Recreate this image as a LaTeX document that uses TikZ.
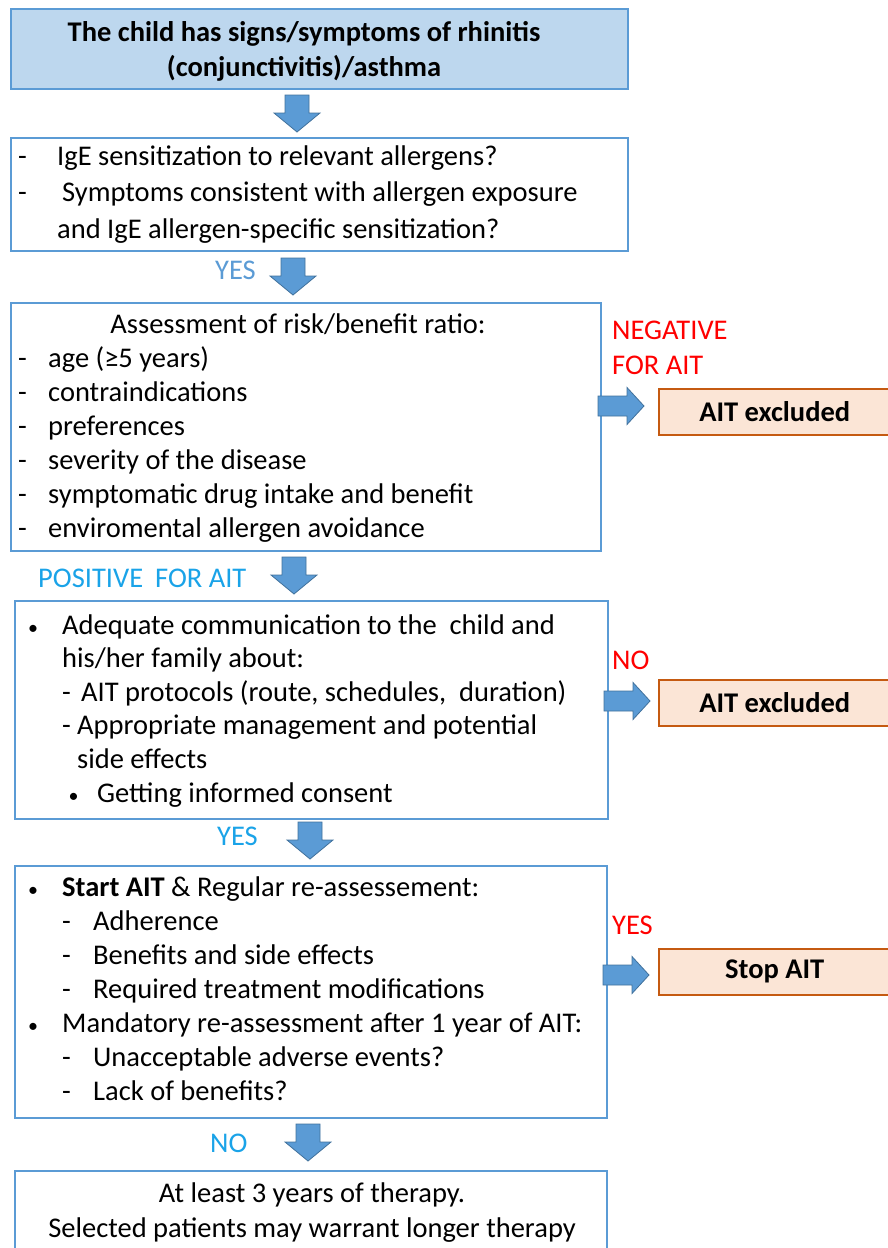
\documentclass[tikz,border=0pt]{standalone}
\usepackage{fontspec}
\setmainfont{Carlito}
\usetikzlibrary{positioning}
\definecolor{boxblue}{HTML}{5B9BD5}
\definecolor{titlefill}{HTML}{BDD7EE}
\definecolor{arrowline}{HTML}{41719C}
\definecolor{stopfill}{HTML}{FBE5D6}
\definecolor{stopline}{HTML}{C55A11}
\definecolor{lblblue}{HTML}{1AA3E8}
\definecolor{lblred}{HTML}{FF0000}
\newcommand{\smallbul}{{\fontsize{20}{20}\selectfont\textbullet}}
\tikzset{
  mainbox/.style={draw=boxblue,line width=1.5pt,inner sep=0pt,anchor=north west},
  titlebox/.style={mainbox,fill=titlefill,line width=2pt},
  stopbox/.style={draw=stopline,fill=stopfill,line width=1.5pt,anchor=north west,
    minimum width=232pt,minimum height=46pt,font=\fontsize{28.5}{34}\selectfont\bfseries},
  lines/.style={inner sep=0pt,anchor=base west},
  bluelbl/.style={inner sep=0pt,text=lblblue,anchor=base west},
  redlbl/.style={inner sep=0pt,text=lblred,anchor=base west},
  pics/blockdown/.style={code={
    \filldraw[fill=boxblue,draw=arrowline,line width=0.8pt]
      (-12,0) -- (12,0) -- (12,18) -- (23,18) -- (0,37) -- (-23,18) -- (-12,18) -- cycle;}},
  pics/blockright/.style={code={
    \filldraw[fill=boxblue,draw=arrowline,line width=0.8pt]
      (0,-10) -- (29,-10) -- (29,-18.5) -- (46,0) -- (29,18.5) -- (29,10) -- (0,10) -- cycle;}},
}
\begin{document}
\begin{tikzpicture}[x=1pt,y=-1pt,font=\fontsize{28.5}{34}\selectfont]
  \useasboundingbox (0,0) rectangle (888,1248);
  \clip (0,0) rectangle (888,1248);
  % boxes
  \node[titlebox,minimum width=617pt,minimum height=80pt] (b1) at (10,8) {};
  \node[mainbox,minimum width=617pt,minimum height=113pt] (b2) at (10,137) {};
  \node[mainbox,minimum width=590pt,minimum height=248pt] (b3) at (10,302) {};
  \node[mainbox,minimum width=593pt,minimum height=218pt] (b4) at (14,600) {};
  \node[mainbox,minimum width=592pt,minimum height=252pt] (b5) at (14,865) {};
  \node[mainbox,minimum width=592pt,minimum height=90pt] (b6) at (14,1170) {};
  \node[stopbox] (ex1) at (658,388) {AIT excluded};
  \node[stopbox] (ex2) at (658,679) {AIT excluded};
  \node[stopbox] (ex3) at (658,948) {Stop AIT};
  % texts
  \node[inner sep=0pt,align=center,font=\fontsize{28.5}{35}\selectfont\bfseries] (t1) at (304,51)
    {The child has signs/symptoms of rhinitis\\(conjunctivitis)/asthma};
  \node[lines,font=\fontsize{28.5}{36.5}\selectfont] (t2) at (18,165) {\begin{tabular}[t]{@{}p{39pt}@{}l@{}}
    - & IgE sensitization to relevant allergens?\\
    - & \hspace{5pt}Symptoms consistent with allergen exposure\\
      & and IgE allergen-specific sensitization?
  \end{tabular}};
  \node[inner sep=0pt,anchor=base] (t3h) at (298,333) {Assessment of risk/benefit ratio:};
  \node[lines] (t3) at (18,367) {\begin{tabular}[t]{@{}p{30pt}@{}l@{}}
    - & age (≥5 years)\\
    - & contraindications\\
    - & preferences\\
    - & severity of the disease\\
    - & symptomatic drug intake and benefit\\
    - & enviromental allergen avoidance
  \end{tabular}};
  \node[lines,font=\fontsize{28.5}{33.6}\selectfont] (t4) at (28,634) {\begin{tabular}[t]{@{}p{34pt}@{}l@{}}
    \smallbul & Adequate communication to the\ \ child and\\
      & his/her family about:\\
      & \makebox[19pt][l]{-}AIT protocols (route, schedules,\ \ duration)\\
      & \makebox[15pt][l]{-}Appropriate management and potential\\
      & \hspace{15pt}side effects\\
      & \makebox[35pt][l]{\ \smallbul}Getting informed consent
  \end{tabular}};
  \node[lines] (t5) at (28,896) {\begin{tabular}[t]{@{}p{34pt}@{}l@{}}
    \smallbul & \textbf{Start AIT} \& Regular re-assessement:\\
      & \makebox[31pt][l]{-}Adherence\\
      & \makebox[31pt][l]{-}Benefits and side effects\\
      & \makebox[31pt][l]{-}Required treatment modifications\\
    \smallbul & Mandatory re-assessment after 1 year of AIT:\\
      & \makebox[31pt][l]{-}Unacceptable adverse events?\\
      & \makebox[31pt][l]{-}Lack of benefits?
  \end{tabular}};
  \node[inner sep=0pt,align=center,font=\fontsize{28.5}{35}\selectfont,anchor=base] (t6) at (312,1237)
    {At least 3 years of therapy.\\Selected patients may warrant longer therapy};
  % decision labels
  \node[bluelbl,text=boxblue] (l1) at (215,279) {YES};
  \node[bluelbl] (l2) at (38,587) {POSITIVE\hspace{12pt}FOR AIT};
  \node[bluelbl] (l3) at (217,845) {YES};
  \node[bluelbl] (l4) at (210,1152) {NO};
  \node[redlbl,align=left,font=\fontsize{28.5}{35}\selectfont] (r1) at (612,374) {NEGATIVE\\FOR AIT};
  \node[redlbl] (r2) at (612,669) {NO};
  \node[redlbl] (r3) at (612,934) {YES};
  % block arrows
  \pic at (297,95) {blockdown};
  \pic at (293,258) {blockdown};
  \pic at (294,557) {blockdown};
  \pic at (310,822) {blockdown};
  \pic at (308,1124) {blockdown};
  \pic at (598,406) {blockright};
  \pic at (604,701) {blockright};
  \pic at (603,975) {blockright};
\end{tikzpicture}
\end{document}
